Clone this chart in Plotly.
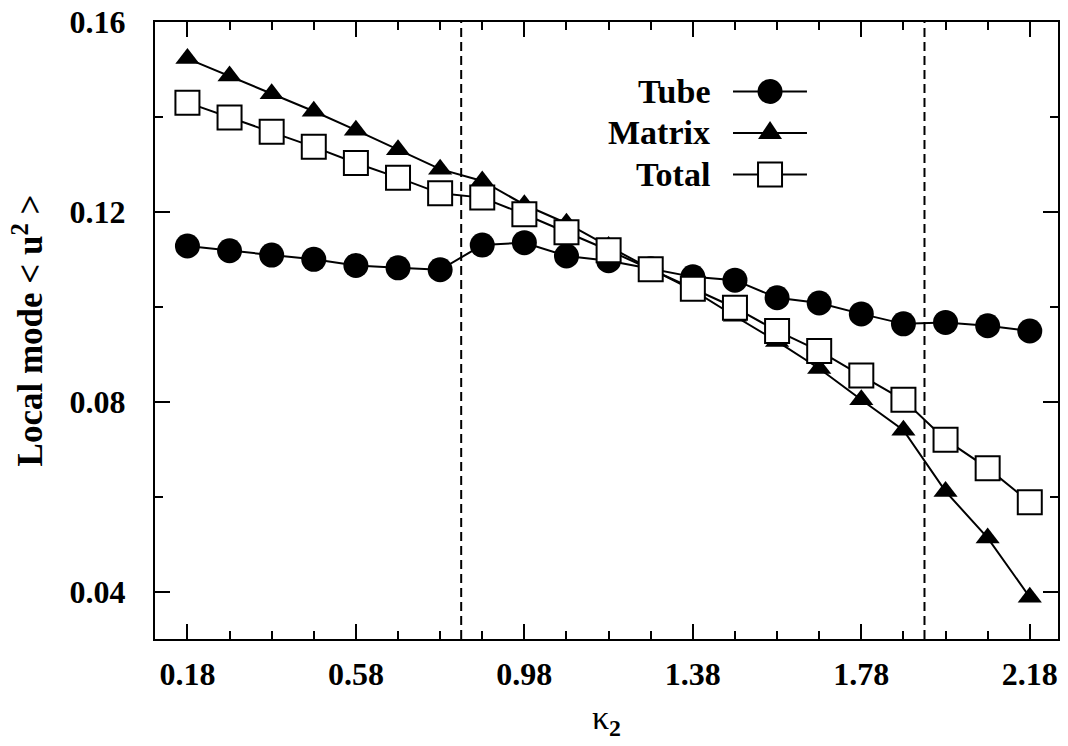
import plotly.graph_objects as go

# ---- data ----
kappa2 = [0.18, 0.28, 0.38, 0.48, 0.58, 0.68, 0.78, 0.88, 0.98, 1.08, 1.18,
          1.28, 1.38, 1.48, 1.58, 1.68, 1.78, 1.88, 1.98, 2.08, 2.18]
tube = [0.1128, 0.1118, 0.1109, 0.1100, 0.1087, 0.1082, 0.1078, 0.1130, 0.1135, 0.1107, 0.1097,
        0.1080, 0.1063, 0.1056, 0.1019, 0.1008, 0.0985, 0.0964, 0.0967, 0.0960, 0.0949]
matrix = [0.1523, 0.1486, 0.1449, 0.1412, 0.1372, 0.1331, 0.1290, 0.1265, 0.1215, 0.1176, 0.1127,
          0.1080, 0.1035, 0.0980, 0.0927, 0.0870, 0.0804, 0.0740, 0.0611, 0.0513, 0.0388]
total = [0.1430, 0.1399, 0.1369, 0.1337, 0.1303, 0.1272, 0.1239, 0.1230, 0.1195, 0.1157, 0.1119,
         0.1079, 0.1038, 0.0998, 0.0949, 0.0907, 0.0855, 0.0804, 0.0720, 0.0660, 0.0588]
series_names = ["Tube", "Matrix", "Total"]
boundaries = [0.83, 1.93]
x_ticks = [0.18, 0.58, 0.98, 1.38, 1.78, 2.18]
x_ticklabels = ["0.18", "0.58", "0.98", "1.38", "1.78", "2.18"]
y_ticks = [0.04, 0.08, 0.12, 0.16]
y_ticklabels = ["0.04", "0.08", "0.12", "0.16"]

FONT = "Liberation Serif"
BLACK = "black"

fig = go.Figure()
series = [tube, matrix, total]
symbols = ["circle", "triangle-up", "square"]
sizes = [25, 21, 24]
fills = [BLACK, BLACK, "white"]
for name, ys, sym, sz, fc in zip(series_names, series, symbols, sizes, fills):
    fig.add_trace(go.Scatter(
        x=kappa2, y=ys, name=name, mode="lines+markers",
        line=dict(color=BLACK, width=2),
        marker=dict(symbol=sym, size=sz, color=fc, line=dict(color=BLACK, width=2 if fc == "white" else 0)),
        showlegend=False, cliponaxis=False,
    ))

shapes = []
for b in boundaries:
    shapes.append(dict(type="line", xref="x", yref="paper", x0=b, x1=b, y0=0, y1=1,
                       line=dict(color=BLACK, width=2, dash="9px,5px"), layer="below"))

# custom legend (text on left, sample on right)
leg_text_x = 0.6168
leg_line_x0, leg_line_x1 = 0.6401, 0.7220
leg_mark_x = 0.6811
leg_rows = [0.8874, 0.8201, 0.7528]
annotations = []
for name, ry, sym in zip(series_names, leg_rows, symbols):
    annotations.append(dict(x=leg_text_x, y=ry, xref="paper", yref="paper", text="<b>%s</b>" % name,
                            xanchor="right", yanchor="middle", showarrow=False,
                            font=dict(family=FONT, size=34, color=BLACK)))
    shapes.append(dict(type="line", xref="paper", yref="paper", x0=leg_line_x0, x1=leg_line_x1,
                       y0=ry, y1=ry, line=dict(color=BLACK, width=2)))
    if sym == "circle":
        shapes.append(dict(type="circle", xref="paper", yref="paper", xsizemode="pixel", ysizemode="pixel",
                           xanchor=leg_mark_x, yanchor=ry, x0=-12.5, x1=12.5, y0=-12.5, y1=12.5,
                           fillcolor=BLACK, line=dict(color=BLACK, width=0)))
    elif sym == "triangle-up":
        shapes.append(dict(type="path", xref="paper", yref="paper", xsizemode="pixel", ysizemode="pixel",
                           xanchor=leg_mark_x, yanchor=ry, path="M -12,-6 L 12,-6 L 0,12 Z",
                           fillcolor=BLACK, line=dict(color=BLACK, width=0)))
    else:
        shapes.append(dict(type="rect", xref="paper", yref="paper", xsizemode="pixel", ysizemode="pixel",
                           xanchor=leg_mark_x, yanchor=ry, x0=-12, x1=12, y0=-12, y1=12,
                           fillcolor="white", line=dict(color=BLACK, width=2)))

axis_common = dict(
    showline=True, linecolor=BLACK, linewidth=2, mirror="allticks",
    ticks="inside", ticklen=15, tickwidth=2, tickcolor=BLACK,
    showgrid=False, zeroline=False, automargin=False,
    tickfont=dict(family=FONT, size=32, color=BLACK, weight="bold"),
)

fig.update_layout(
    width=1068, height=746,
    margin=dict(l=155, r=10, t=22, b=107),
    paper_bgcolor="white", plot_bgcolor="white",
    xaxis=dict(range=[0.103, 2.247], tickvals=x_ticks, ticktext=x_ticklabels, ticklabelstandoff=6,
               minor=dict(dtick=0.1, tick0=0.18, ticks="inside", ticklen=8, tickwidth=2, tickcolor=BLACK),
               title=dict(text="κ<sub><b>2</b></sub>", font=dict(family=FONT, size=34, color=BLACK), standoff=14),
               **axis_common),
    yaxis=dict(range=[0.03, 0.16], tickvals=y_ticks, ticktext=y_ticklabels, ticklabelstandoff=21,
               minor=dict(dtick=0.02, tick0=0.0, ticks="inside", ticklen=8, tickwidth=2, tickcolor=BLACK),
               title=dict(text="<b>Local mode < u<sup>2</sup> ></b>", font=dict(family=FONT, size=35, color=BLACK), standoff=16),
               **axis_common),
    shapes=shapes, annotations=annotations,
)

fig.write_html("out.html", config={"displayModeBar": False},
               post_script="document.body.style.margin='0';document.body.style.overflow='hidden';")
